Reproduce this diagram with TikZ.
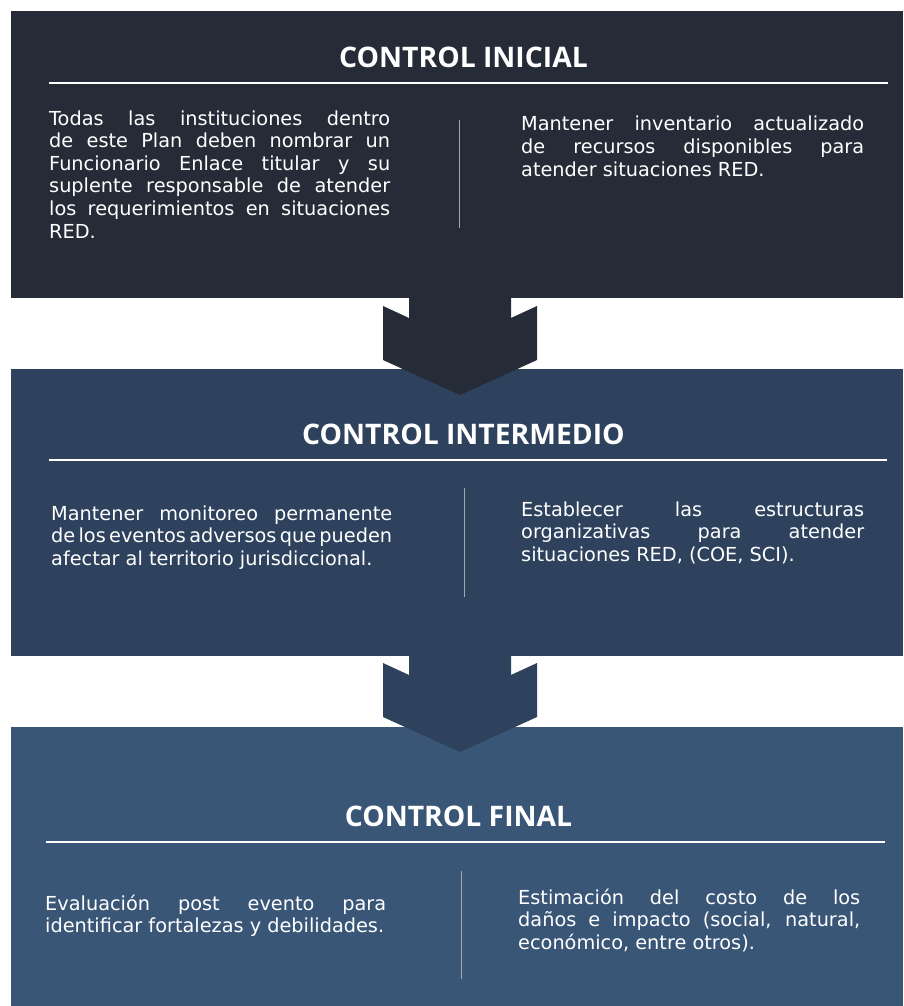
\documentclass[tikz,border=0pt]{standalone}
\usepackage{fontspec}
\setmainfont{DejaVu Sans}
\newfontfamily\titlefont{Open Sans}
\usetikzlibrary{positioning}
\definecolor{cini}{HTML}{262C37}
\definecolor{cinter}{HTML}{2E425E}
\definecolor{cfin}{HTML}{3A5677}
\definecolor{cdiv}{HTML}{A3A8AF}
\begin{document}
\begin{tikzpicture}[x=1pt,y=-1pt,
		box/.style={rectangle,inner sep=0,minimum width=892pt,anchor=north west},
		titulo/.style={text=white,inner sep=0,font=\titlefont\bfseries\fontsize{28.3}{32}\selectfont},
		texto/.style={text=white,inner sep=0,anchor=base west,align=justify,
			font=\fontsize{19.3}{22.6}\selectfont,
			execute at begin node={\spaceskip=6.1pt plus 12pt minus 3.6pt\relax}},
		regla/.style={white,line width=2.4pt},
		divisor/.style={cdiv,line width=1pt}]
		\useasboundingbox (0,0) rectangle (903,1006);
		\fill[white] (0,0) rectangle (903,1006);
		% cajas
		\node[box,fill=cini,minimum height=287pt] (ini) at (11,11) {};
		\node[box,fill=cinter,minimum height=287pt,below=70pt of ini] (inter) {};
		\node[box,fill=cfin,minimum height=280pt,below=71pt of inter] (fin) {};
		% flechas
		\foreach \b/\c in {298/cini,655/cinter}
			\fill[\c] (409,\b-1) -- (409,\b+20) -- (383,\b+8) -- (383,\b+62)
				-- (460,\b+97) -- (537,\b+62) -- (537,\b+8) -- (511,\b+20) -- (511,\b-1) -- cycle;
		% titulos
		\node[titulo] (tini) at (463.5,57) {CONTROL INICIAL};
		\node[titulo] (tinter) at (463.5,434) {CONTROL INTERMEDIO};
		\node[titulo] (tfin) at (458.5,816) {CONTROL FINAL};
		\draw[regla] (49,83) -- (888,83)
			(49,460) -- (887,460)
			(46,842) -- (885,842);
		\draw[divisor] (459,120) -- (459,228)
			(464,488) -- (464,597)
			(461,871) -- (461,979);
		% textos
		\node[texto,text width=341pt] (ini-l) at (49,125) {Todas las instituciones dentro\linebreak
			de este Plan deben nombrar un\linebreak Funcionario Enlace titular y su\linebreak
			suplente responsable de atender\linebreak los requerimientos en situaciones\linebreak RED.};
		\node[texto,text width=343pt] (ini-r) at (521,131) {Mantener inventario actualizado\linebreak
			de recursos disponibles para\linebreak atender situaciones RED.};
		\node[texto,text width=341pt] (inter-l) at (51,520) {Mantener monitoreo permanente\linebreak
			de los eventos adversos que pueden\linebreak afectar al territorio jurisdiccional.};
		\node[texto,text width=343pt] (inter-r) at (521,516) {Establecer las estructuras\linebreak
			organizativas para atender\linebreak situaciones RED, (COE, SCI).};
		\node[texto,text width=341pt] (fin-l) at (45,910) {Evaluación post evento para\linebreak
			identificar fortalezas y debilidades.};
		\node[texto,text width=342pt] (fin-r) at (518,904) {Estimación del costo de los\linebreak
			daños e impacto (social, natural,\linebreak económico, entre otros).};
	\end{tikzpicture}
\end{document}
